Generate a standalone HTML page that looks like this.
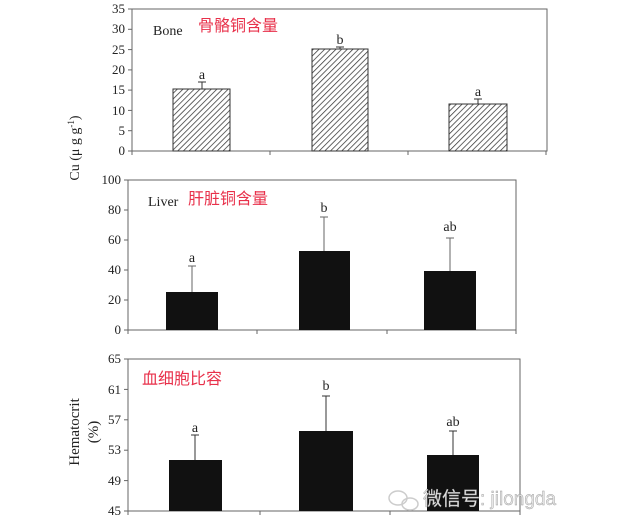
<!DOCTYPE html>
<html><head><meta charset="utf-8"><style>
html,body{margin:0;padding:0;background:#fff;}
svg{display:block;}
text{font-family:"Liberation Serif","Noto Serif CJK SC",serif;font-size:13px;fill:#222;}
.cn{font-family:"Liberation Sans","Noto Sans CJK SC",sans-serif;fill:#e8304a;font-size:16px;}
.t{text-anchor:end;}
</style></head><body>
<svg width="617" height="532" viewBox="0 0 617 532">
<defs>
<pattern id="h" width="4" height="4" patternUnits="userSpaceOnUse" patternTransform="rotate(45)">
<rect width="4" height="4" fill="#fff"/><line x1="0" y1="0" x2="0" y2="4" stroke="#333" stroke-width="1.5"/>
</pattern>
</defs>
<g stroke="#666" fill="none" stroke-width="1">
<polyline points="132,9 547,9 547,151 132,151 132,9"/>
<line x1="132" y1="151" x2="132" y2="155"/><line x1="270" y1="151" x2="270" y2="155"/><line x1="408" y1="151" x2="408" y2="155"/><line x1="546" y1="151" x2="546" y2="155"/>
<polyline points="128,180 516,180 516,330 128,330 128,180"/>
<line x1="128" y1="330" x2="128" y2="334"/><line x1="257" y1="330" x2="257" y2="334"/><line x1="387" y1="330" x2="387" y2="334"/><line x1="516" y1="330" x2="516" y2="334"/>
<polyline points="128,359 520,359 520,511 128,511 128,359"/>
<line x1="128" y1="511" x2="128" y2="515"/><line x1="260" y1="511" x2="260" y2="515"/><line x1="390" y1="511" x2="390" y2="515"/><line x1="520" y1="511" x2="520" y2="515"/>
</g>
<g stroke="#666">
<line x1="128" y1="9" x2="132" y2="9"/><line x1="128" y1="29.3" x2="132" y2="29.3"/><line x1="128" y1="49.6" x2="132" y2="49.6"/><line x1="128" y1="69.9" x2="132" y2="69.9"/><line x1="128" y1="90.1" x2="132" y2="90.1"/><line x1="128" y1="110.4" x2="132" y2="110.4"/><line x1="128" y1="130.7" x2="132" y2="130.7"/><line x1="128" y1="151" x2="132" y2="151"/>
<line x1="124" y1="180" x2="128" y2="180"/><line x1="124" y1="210" x2="128" y2="210"/><line x1="124" y1="240" x2="128" y2="240"/><line x1="124" y1="270" x2="128" y2="270"/><line x1="124" y1="300" x2="128" y2="300"/><line x1="124" y1="330" x2="128" y2="330"/>
<line x1="124" y1="359" x2="128" y2="359"/><line x1="124" y1="389.4" x2="128" y2="389.4"/><line x1="124" y1="419.8" x2="128" y2="419.8"/><line x1="124" y1="450.2" x2="128" y2="450.2"/><line x1="124" y1="480.6" x2="128" y2="480.6"/><line x1="124" y1="511" x2="128" y2="511"/>
</g>
<g class="t">
<text class="t" x="125" y="13">35</text><text class="t" x="125" y="33">30</text><text class="t" x="125" y="54">25</text><text class="t" x="125" y="74">20</text><text class="t" x="125" y="94">15</text><text class="t" x="125" y="115">10</text><text class="t" x="125" y="135">5</text><text class="t" x="125" y="155">0</text>
<text class="t" x="121" y="184">100</text><text class="t" x="121" y="214">80</text><text class="t" x="121" y="244">60</text><text class="t" x="121" y="274">40</text><text class="t" x="121" y="304">20</text><text class="t" x="121" y="334">0</text>
<text class="t" x="121" y="363">65</text><text class="t" x="121" y="394">61</text><text class="t" x="121" y="424">57</text><text class="t" x="121" y="454">53</text><text class="t" x="121" y="485">49</text><text class="t" x="121" y="515">45</text>
</g>
<g stroke="#333" stroke-width="1">
<line x1="202" y1="82" x2="202" y2="89"/><line x1="198" y1="82" x2="206" y2="82"/>
<line x1="340" y1="47" x2="340" y2="49"/><line x1="336" y1="47" x2="344" y2="47"/>
<line x1="478" y1="99" x2="478" y2="104"/><line x1="474" y1="99" x2="482" y2="99"/>
<rect x="173" y="89" width="57" height="62" fill="url(#h)"/>
<rect x="312" y="49" width="56" height="102" fill="url(#h)"/>
<rect x="449" y="104" width="58" height="47" fill="url(#h)"/>
</g>
<text x="202" y="79" text-anchor="middle" style="font-size:14px">a</text>
<text x="340" y="44" text-anchor="middle" style="font-size:14px">b</text>
<text x="478" y="96" text-anchor="middle" style="font-size:14px">a</text>
<text x="153" y="35" style="font-size:14px">Bone</text>
<text class="cn" x="198" y="31">骨骼铜含量</text>
<g stroke="#666"><line x1="192" y1="266" x2="192" y2="292"/><line x1="188" y1="266" x2="196" y2="266"/>
<line x1="324" y1="217" x2="324" y2="251"/><line x1="320" y1="217" x2="328" y2="217"/>
<line x1="450" y1="238" x2="450" y2="271"/><line x1="446" y1="238" x2="454" y2="238"/></g>
<rect x="166" y="292" width="52" height="38" fill="#111"/>
<rect x="299" y="251" width="51" height="79" fill="#111"/>
<rect x="424" y="271" width="52" height="59" fill="#111"/>
<text x="192" y="262" text-anchor="middle" style="font-size:14px">a</text>
<text x="324" y="212" text-anchor="middle" style="font-size:14px">b</text>
<text x="450" y="231" text-anchor="middle" style="font-size:14px">ab</text>
<text x="148" y="206" style="font-size:14px">Liver</text>
<text class="cn" x="188" y="204">肝脏铜含量</text>
<g stroke="#333"><line x1="195" y1="435" x2="195" y2="460"/><line x1="191" y1="435" x2="199" y2="435"/>
<line x1="326" y1="396" x2="326" y2="431"/><line x1="322" y1="396" x2="330" y2="396"/>
<line x1="453" y1="431" x2="453" y2="455"/><line x1="449" y1="431" x2="457" y2="431"/></g>
<rect x="169" y="460" width="53" height="51" fill="#111"/>
<rect x="299" y="431" width="54" height="80" fill="#111"/>
<rect x="427" y="455" width="52" height="56" fill="#111"/>
<text x="195" y="432" text-anchor="middle" style="font-size:14px">a</text>
<text x="326" y="390" text-anchor="middle" style="font-size:14px">b</text>
<text x="453" y="426" text-anchor="middle" style="font-size:14px">ab</text>
<text class="cn" x="142" y="384">血细胞比容</text>
<text transform="translate(79,148) rotate(-90)" text-anchor="middle" style="font-size:14px">Cu (μ g g<tspan dy="-5" style="font-size:9px">-1</tspan><tspan dy="5">)</tspan></text>
<text transform="translate(79,432) rotate(-90)" text-anchor="middle" style="font-size:15px">Hematocrit</text>
<text transform="translate(98,432) rotate(-90)" text-anchor="middle" style="font-size:15px">(%)</text>
<g fill="none" stroke="#ccc" stroke-width="1.5"><ellipse cx="398" cy="498" rx="9" ry="7"/><ellipse cx="410" cy="504" rx="8" ry="6"/></g>
<text x="423" y="505" style="font-family:'Liberation Sans','Noto Sans CJK SC',sans-serif;font-size:19px;fill:#e6e6e6;stroke:#999;stroke-width:0.4">微信号: jilongda</text>
</svg>
</body></html>
